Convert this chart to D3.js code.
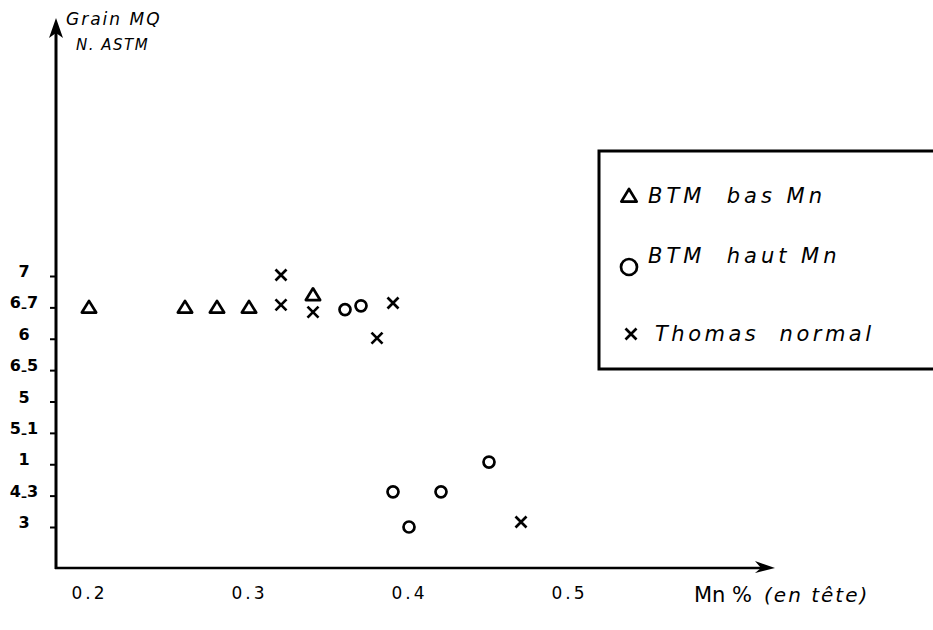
<!DOCTYPE html>
<html>
<head>
<meta charset="utf-8">
<script src="https://cdn.jsdelivr.net/npm/d3@7"></script>
<style>
	body { margin: 0; background: #fff; }
	text { font-family: "DejaVu Sans", sans-serif; fill: #000; }
</style>
</head>
<body>
<div class="canvas"></div>
<script>
// tick labels, bottom to top (as written on the original)
const yLabels = ['3', '4-3', '1', '5-1', '5', '6-5', '6', '6-7', '7'];
const xTicks = [0.2, 0.3, 0.4, 0.5];

// series: Mn % and position on the grain axis (tick index)
const basMnX = [0.20, 0.26, 0.28, 0.30, 0.34];
const basMnY = [7, 7, 7, 7, 7.4];
const hautMnX = [0.36, 0.37, 0.39, 0.40, 0.42, 0.45];
const hautMnY = [6.93, 7.05, 1.12, 0.0, 1.12, 2.07];
const thomasX = [0.32, 0.32, 0.34, 0.38, 0.39, 0.47];
const thomasY = [8.03, 7.08, 6.85, 6.02, 7.14, 0.16];

const legendNames = ['BTM  bas Mn', 'BTM  haut Mn', 'Thomas  normal'];

const dims = { width: 933, height: 630 };

const svg = d3.select('.canvas').append('svg')
	.attr('width', dims.width)
	.attr('height', dims.height);

const x = d3.scaleLinear().domain([0.2, 0.5]).range([89, 569]);
const y = d3.scaleLinear().domain([0, 8]).range([527, 276]);

const axisX = 56;      // where the vertical axis sits
const axisY = 568;     // where the horizontal axis sits
const arrowRight = 775;
const arrowTop = 18;

// axes lines
svg.append('line')
	.attr('x1', axisX).attr('x2', axisX)
	.attr('y1', axisY + 1).attr('y2', arrowTop + 12)
	.attr('stroke', '#000').attr('stroke-width', 3);

svg.append('line')
	.attr('x1', axisX - 1).attr('x2', arrowRight - 10)
	.attr('y1', axisY).attr('y2', axisY)
	.attr('stroke', '#000').attr('stroke-width', 2.5);

// arrow heads
svg.append('path')
	.attr('d', `M${axisX},${arrowTop} L${axisX - 7},${arrowTop + 20} L${axisX},${arrowTop + 15} L${axisX + 7},${arrowTop + 20} Z`)
	.attr('fill', '#000');

svg.append('path')
	.attr('d', `M${arrowRight},${axisY} L${arrowRight - 20},${axisY - 7} L${arrowRight - 14},${axisY} L${arrowRight - 20},${axisY + 5} Z`)
	.attr('fill', '#000');

// y ticks
const yAxis = d3.axisLeft(y)
	.tickValues(d3.range(yLabels.length))
	.tickSize(5)
	.tickFormat('');

const yg = svg.append('g')
	.attr('transform', `translate(${axisX - 1}, 0)`)
	.call(yAxis);
yg.select('.domain').remove();
yg.selectAll('.tick line').attr('stroke', '#000').attr('stroke-width', 2);

// y tick labels, hand lettered with a low dash
const yText = svg.append('g').selectAll('text')
	.data(yLabels)
	.enter().append('text')
	.attr('x', 24)
	.attr('y', (d, i) => y(i) + 1)
	.attr('text-anchor', 'middle')
	.attr('font-size', 16)
	.attr('font-weight', 'bold');

yText.each(function(d) {
	const t = d3.select(this);
	const parts = d.split('-');
	if (parts.length === 1) {
		t.text(d);
	} else {
		t.append('tspan').text(parts[0]);
		t.append('tspan').attr('dy', 4).attr('font-size', 12).text('–');
		t.append('tspan').attr('dy', -4).text(parts[1]);
	}
});

// x tick labels
const xAxis = d3.axisBottom(x)
	.tickValues(xTicks)
	.tickSize(0)
	.tickPadding(0)
	.tickFormat(d3.format('.1f'));

const xg = svg.append('g')
	.attr('transform', `translate(0, ${axisY + 19})`)
	.call(xAxis);
xg.select('.domain').remove();
xg.selectAll('text')
	.attr('font-family', '"DejaVu Sans", sans-serif')
	.attr('font-size', 17)
	.attr('letter-spacing', 3)
	.attr('fill', '#000');

// axis titles
svg.append('text')
	.attr('x', 66).attr('y', 25)
	.attr('font-size', 17)
	.attr('font-style', 'italic')
	.attr('letter-spacing', 2)
	.text('Grain MQ');

svg.append('text')
	.attr('x', 76).attr('y', 50)
	.attr('font-size', 15)
	.attr('font-style', 'italic')
	.attr('letter-spacing', 1.5)
	.text('N. ASTM');

const xTitle = svg.append('text')
	.attr('x', 694).attr('y', 602)
	.attr('font-size', 21);
xTitle.append('tspan').text('Mn %');
xTitle.append('tspan')
	.attr('dx', 12)
	.attr('font-size', 20)
	.attr('font-style', 'italic')
	.attr('letter-spacing', 2)
	.text('(en tête)');

// marker shapes
const triangle = (g, cx, cy, s) => g.append('path')
	.attr('d', `M${cx},${cy - s * 0.5} L${cx + s * 0.55},${cy + s * 0.4} L${cx - s * 0.55},${cy + s * 0.4} Z`)
	.attr('fill', 'none').attr('stroke', '#000').attr('stroke-width', 2.7)
	.attr('stroke-linejoin', 'round');

const circle = (g, cx, cy, r) => g.append('circle')
	.attr('cx', cx).attr('cy', cy).attr('r', r)
	.attr('fill', 'none').attr('stroke', '#000').attr('stroke-width', 2.7);

const cross = (g, cx, cy, s) => g.append('path')
	.attr('d', `M${cx - s / 2},${cy - s / 2} L${cx + s / 2},${cy + s / 2} M${cx + s / 2},${cy - s / 2} L${cx - s / 2},${cy + s / 2}`)
	.attr('fill', 'none').attr('stroke', '#000').attr('stroke-width', 2.7);

const points = svg.append('g');

basMnX.forEach((v, i) => triangle(points, x(v), y(basMnY[i]), 13));
hautMnX.forEach((v, i) => circle(points, x(v), y(hautMnY[i]), 5.5));
thomasX.forEach((v, i) => cross(points, x(v), y(thomasY[i]), 11));

// legend box (runs off the right edge)
const legend = svg.append('g');

legend.append('path')
	.attr('d', 'M945,151 L599,151 L599,369 L945,369')
	.attr('fill', 'none').attr('stroke', '#000').attr('stroke-width', 3);

const rows = [196, 266, 334];
triangle(legend, 629, rows[0], 14);
circle(legend, 629, rows[1] + 1, 8);
cross(legend, 631, rows[2], 11);

legend.selectAll('text')
	.data(legendNames)
	.enter().append('text')
	.attr('x', (d, i) => i === 2 ? 655 : 648)
	.attr('y', (d, i) => rows[i] + (i === 1 ? -3 : 7))
	.attr('font-size', 21)
	.attr('font-style', 'italic')
	.attr('letter-spacing', (d, i) => i === 2 ? 3.5 : 4)
	.attr('xml:space', 'preserve')
	.style('white-space', 'pre')
	.text(d => d);
</script>
</body>
</html>
